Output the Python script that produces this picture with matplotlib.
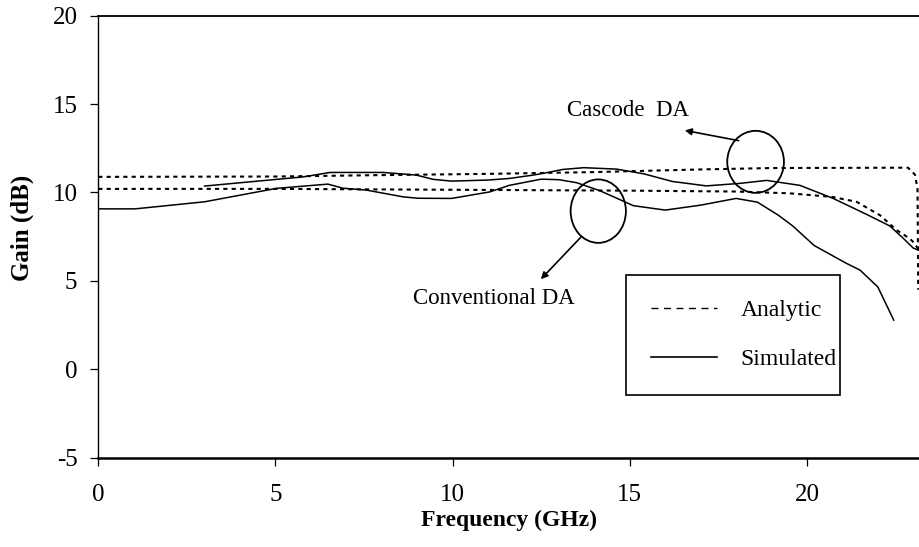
import matplotlib
matplotlib.use("Agg")
import matplotlib.pyplot as plt
from matplotlib.lines import Line2D
from matplotlib.patches import Ellipse

plt.rcParams['font.family'] = ['Liberation Serif', 'DejaVu Serif']
plt.rcParams['axes.unicode_minus'] = False

# analytic gain, conventional DA
conv_ana_f = [0, 5, 10, 15, 18, 19.5, 20.7, 21.4, 22.06, 22.53, 22.9, 23.04, 23.2]
conv_ana_g = [10.2, 10.2, 10.15, 10.1, 10.05, 9.95, 9.75, 9.47, 8.71, 7.87, 7.39, 7.11, 6.6]

# analytic gain, cascode DA
casc_ana_f = [0, 5, 8, 11, 14, 17, 19, 22.85, 23.05, 23.12, 23.14]
casc_ana_g = [10.88, 10.9, 10.98, 11.05, 11.15, 11.3, 11.38, 11.4, 11.0, 10.2, 4.5]

# simulated gain, conventional DA
conv_sim_f = [0, 1.04, 3.0, 5.03, 6.48, 6.9, 7.57, 8.6, 9.02, 9.97, 11.05, 11.6, 12.5,
              13.0, 13.5, 14.15, 14.6, 15.1, 16.0, 17.0, 18.0, 18.6, 19.2, 19.6, 20.2,
              21.1, 21.5, 22.0, 22.45]
conv_sim_g = [9.07, 9.07, 9.47, 10.23, 10.47, 10.24, 10.13, 9.75, 9.67, 9.66, 10.03, 10.4, 10.75,
              10.72, 10.55, 10.1, 9.7, 9.25, 9.0, 9.28, 9.66, 9.45, 8.7, 8.1, 7.0,
              6.0, 5.6, 4.65, 2.77]

# simulated gain, cascode DA
casc_sim_f = [3.0, 5.79, 6.54, 8.04, 8.98, 9.45, 9.97, 11.0, 11.6, 12.27, 12.56, 13.11, 13.7,
              14.62, 15.4, 16.2, 17.16, 18.1, 18.86, 19.8, 20.74, 21.68, 22.34, 22.72, 23.0, 23.2]
casc_sim_g = [10.36, 10.88, 11.13, 11.13, 10.98, 10.74, 10.64, 10.7, 10.79, 10.98, 11.08, 11.3, 11.4,
              11.32, 11.05, 10.62, 10.37, 10.51, 10.68, 10.4, 9.66, 8.76, 8.1, 7.4, 6.85, 6.7]

x_ticks = [0, 5, 10, 15, 20]
y_ticks = [-5, 0, 5, 10, 15, 20]

fig = plt.figure(figsize=(9.2, 5.47), dpi=100)
ax = fig.add_axes([98.3 / 920, 1 - 457.5 / 547, 1 - 98.3 / 920, (457.5 - 15.7) / 547])

dash = dict(color='black', lw=1.5, dashes=(2, 2))
ax.plot(conv_ana_f, conv_ana_g, **dash)
ax.plot(casc_ana_f, casc_ana_g, **dash)
ax.plot(conv_sim_f, conv_sim_g, color='black', lw=1.1)
ax.plot(casc_sim_f, casc_sim_g, color='black', lw=1.1)

ax.set_xlim(0, 23.19)
ax.set_ylim(-5, 20)
ax.set_xticks(x_ticks)
ax.set_yticks(y_ticks)
ax.tick_params(direction='out', length=6, width=0.9, labelsize=18)
ax.tick_params(axis='x', pad=13)
ax.tick_params(axis='y', pad=9)

ax.spines['right'].set_visible(False)
ax.spines['left'].set_linewidth(1.0)
ax.spines['top'].set_linewidth(1.3)
ax.spines['bottom'].set_linewidth(1.8)

ax.set_xlabel('Frequency (GHz)', fontsize=17, fontweight='bold', labelpad=3)
ax.set_ylabel('Gain (dB)', fontsize=18, fontweight='bold')
ax.yaxis.set_label_coords(-0.078, 0.52)

# circles + arrows marking the two curve families
ax.add_patch(Ellipse((18.55, 11.73), 1.6, 3.51, fill=False, color='black', lw=1.3))
ax.add_patch(Ellipse((14.11, 8.94), 1.56, 3.59, fill=False, color='black', lw=1.3))
arrow = dict(arrowstyle='-|>', color='black', lw=1.2, mutation_scale=10, shrinkA=0, shrinkB=0)
ax.annotate('', xy=(16.55, 13.51), xytext=(18.07, 12.93), arrowprops=arrow)
ax.annotate('', xy=(12.49, 5.09), xytext=(13.62, 7.47), arrowprops=arrow)
ax.text(14.95, 14.66, 'Cascode  DA', fontsize=16.5, ha='center', va='center')
ax.text(11.16, 4.01, 'Conventional DA', fontsize=16.5, ha='center', va='center')

handles = [Line2D([], [], color='black', lw=1.0, dashes=(5, 4)),
           Line2D([], [], color='black', lw=1.2)]
leg = ax.legend(handles, ['Analytic', 'Simulated'], loc='upper left',
                bbox_to_anchor=(0.642, 0.0, 0.261, 0.413), mode='expand',
                fontsize=17, frameon=True, fancybox=False, framealpha=1,
                edgecolor='black', borderpad=1.05, handlelength=2.8,
                handletextpad=1.0, labelspacing=1.15, borderaxespad=0)
leg.get_frame().set_linewidth(1.2)

fig.savefig('out.png', dpi=100)
